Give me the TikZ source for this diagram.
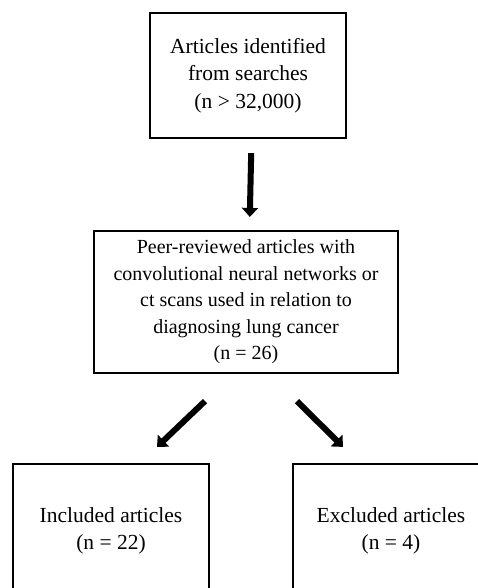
\documentclass[tikz,border=0pt]{standalone}
\usepackage{fontspec}
\setmainfont{Liberation Serif}
\usetikzlibrary{arrows.meta,positioning}
\tikzset{
  box/.style={draw,line width=2.2pt,align=center,inner sep=0pt,font=\fontsize{21.5}{27.5}\selectfont},
  flowarrow/.style={line width=6pt,-{Triangle[length=9pt,width=16pt]}},
}
\begin{document}
\begin{tikzpicture}[x=1pt,y=1pt]
  \useasboundingbox (0,0) rectangle (478,-588);
  \clip (0,0) rectangle (478,-588);
  \node[box,minimum width=196pt,minimum height=125pt] (search) at (248,-75.5) {Articles identified\\from searches\\(n > 32,000)};
  \node[box,minimum width=304pt,minimum height=142pt,font=\fontsize{20}{26.5}\selectfont] (screen) at (246,-302)
    {Peer-reviewed articles with\\convolutional neural networks or\\ct scans used in relation to\\diagnosing lung cancer\\(n = 26)};
  \node[box,minimum width=196pt,minimum height=134pt] (incl) at (111,-531) {Included articles\\(n = 22)};
  \node[box,minimum width=196pt,minimum height=134pt] (excl) at (391,-531) {Excluded articles\\(n = 4)};
  % arrows
  \draw[flowarrow,shorten <=14pt,shorten >=13pt] ([xshift=3.5pt]search.south) -- ([xshift=3.5pt]screen.north);
  \draw[flowarrow] ([shift={(-41pt,-27pt)}]screen.south) -- ([shift={(46pt,16pt)}]incl.north);
  \draw[flowarrow] ([shift={(51pt,-27pt)}]screen.south) -- ([shift={(-48pt,16pt)}]excl.north);
\end{tikzpicture}
\end{document}
